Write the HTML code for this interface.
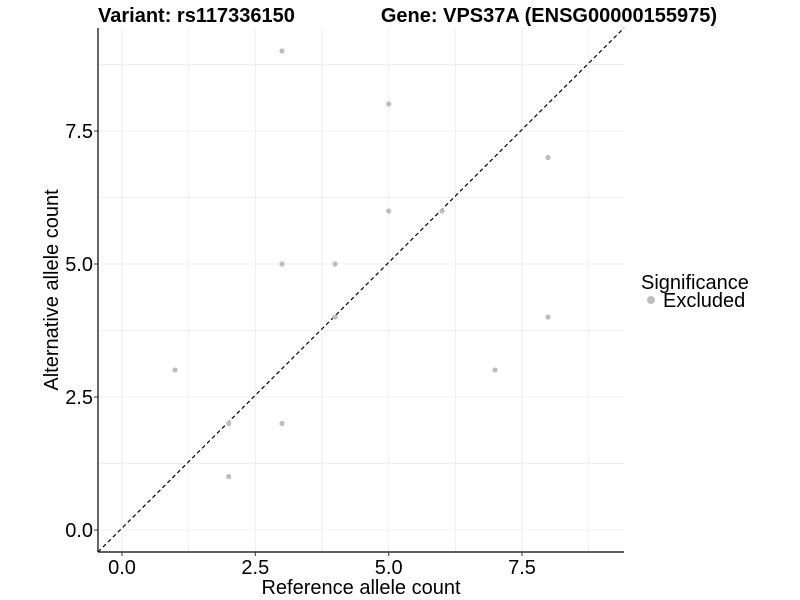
<!DOCTYPE html>
<html><head><style>body{margin:0;background:#fff}svg{display:block}text{font-family:"Liberation Sans",Arial,sans-serif}</style></head>
<body>
<svg width="800" height="600" xmlns="http://www.w3.org/2000/svg">
<g stroke="#ebebeb" stroke-width="0.8">
<line x1="122" y1="28" x2="122" y2="552"/><line x1="188.7" y1="28" x2="188.7" y2="552"/><line x1="255.3" y1="28" x2="255.3" y2="552"/><line x1="322" y1="28" x2="322" y2="552"/><line x1="388.7" y1="28" x2="388.7" y2="552"/><line x1="455.3" y1="28" x2="455.3" y2="552"/><line x1="522" y1="28" x2="522" y2="552"/><line x1="588.7" y1="28" x2="588.7" y2="552"/>
<line x1="98" y1="530" x2="624" y2="530"/><line x1="98" y1="463.5" x2="624" y2="463.5"/><line x1="98" y1="397" x2="624" y2="397"/><line x1="98" y1="330.5" x2="624" y2="330.5"/><line x1="98" y1="264" x2="624" y2="264"/><line x1="98" y1="197.5" x2="624" y2="197.5"/><line x1="98" y1="131" x2="624" y2="131"/><line x1="98" y1="64.5" x2="624" y2="64.5"/>
</g>
<line x1="98" y1="552" x2="624" y2="28" stroke="#000" stroke-width="1.2" stroke-dasharray="4,3"/>
<g fill="#bdbdbd">
<circle cx="282" cy="51" r="2.6"/><circle cx="388.7" cy="104" r="2.6"/><circle cx="548" cy="157.5" r="2.6"/><circle cx="388.7" cy="211" r="2.6"/><circle cx="442" cy="211" r="2.6"/><circle cx="282" cy="264" r="2.6"/><circle cx="335" cy="264" r="2.6"/><circle cx="335" cy="317" r="2.6"/><circle cx="548" cy="317" r="2.6"/><circle cx="175" cy="370" r="2.6"/><circle cx="495" cy="370" r="2.6"/><circle cx="228.7" cy="423.5" r="2.6"/><circle cx="282" cy="423.5" r="2.6"/><circle cx="228.7" cy="476.5" r="2.6"/>
</g>
<line x1="98" y1="28" x2="98" y2="552" stroke="#000" stroke-width="1.2"/>
<line x1="98" y1="552" x2="624" y2="552" stroke="#000" stroke-width="1.2"/>
<g stroke="#333"><line x1="94" y1="530" x2="98" y2="530"/><line x1="94" y1="397" x2="98" y2="397"/><line x1="94" y1="264" x2="98" y2="264"/><line x1="94" y1="131" x2="98" y2="131"/>
<line x1="122" y1="552" x2="122" y2="556"/><line x1="255.3" y1="552" x2="255.3" y2="556"/><line x1="388.7" y1="552" x2="388.7" y2="556"/><line x1="522" y1="552" x2="522" y2="556"/></g>
<g font-size="20" fill="#000" text-anchor="end"><text x="93" y="537">0.0</text><text x="93" y="404">2.5</text><text x="93" y="271">5.0</text><text x="93" y="138">7.5</text></g>
<g font-size="20" fill="#000" text-anchor="middle"><text x="122" y="574">0.0</text><text x="255.3" y="574">2.5</text><text x="388.7" y="574">5.0</text><text x="522" y="574">7.5</text></g>
<text x="361" y="594" font-size="20" text-anchor="middle">Reference allele count</text>
<text transform="translate(58,290) rotate(-90)" font-size="20" text-anchor="middle">Alternative allele count</text>
<text x="98" y="22" font-size="20" font-weight="bold">Variant: rs117336150</text>
<text x="717" y="22" font-size="20" font-weight="bold" text-anchor="end">Gene: VPS37A (ENSG00000155975)</text>
<text x="641" y="289" font-size="20">Significance</text>
<circle cx="651" cy="300" r="4" fill="#bdbdbd"/>
<text x="663" y="307" font-size="20">Excluded</text>
</svg>
</body></html>
